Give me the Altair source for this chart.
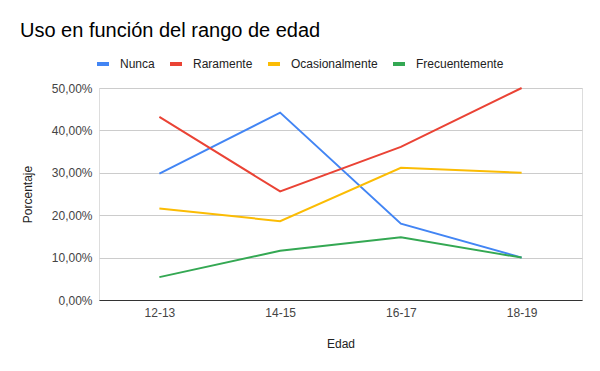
import altair as alt
import pandas as pd

edades = ["12-13", "14-15", "16-17", "18-19"]
series = ["Nunca", "Raramente", "Ocasionalmente", "Frecuentemente"]
nunca = [0.298, 0.442, 0.180, 0.100]
raramente = [0.432, 0.256, 0.361, 0.500]
ocasionalmente = [0.216, 0.186, 0.312, 0.300]
frecuentemente = [0.054, 0.116, 0.148, 0.100]
colores = ["#4285F4", "#EA4335", "#FBBC04", "#34A853"]
y_ticks = [0, 0.1, 0.2, 0.3, 0.4, 0.5]

rows = []
for name, vals in zip(series, [nunca, raramente, ocasionalmente, frecuentemente]):
    for e, v in zip(edades, vals):
        rows.append({"Edad": e, "Serie": name, "Valor": v})
df = pd.DataFrame(rows)

FONT = "Liberation Sans"

chart = (
    alt.Chart(df)
    .mark_line(strokeWidth=2)
    .encode(
        x=alt.X(
            "Edad:O",
            sort=edades,
            scale=alt.Scale(padding=0.5),
            axis=alt.Axis(
                title="Edad",
                labelAngle=0,
                labelFont=FONT,
                labelFontSize=12,
                labelColor="#444444",
                labelPadding=7,
                ticks=False,
                domain=True,
                domainColor="#333333",
                domainWidth=1,
                titleFont=FONT,
                titleFontSize=12,
                titleFontWeight="normal",
                titleColor="#222222",
                titlePadding=20,
            ),
        ),
        y=alt.Y(
            "Valor:Q",
            scale=alt.Scale(domain=[0, 0.5], nice=False),
            axis=alt.Axis(
                title="Porcentaje",
                values=y_ticks,
                labelExpr="replace(format(datum.value, '.2%'), '.', ',')",
                labelFont=FONT,
                labelFontSize=12,
                labelColor="#444444",
                labelPadding=7,
                ticks=False,
                domain=False,
                gridColor="#cccccc",
                gridWidth=1,
                titleFont=FONT,
                titleFontSize=12,
                titleFontWeight="normal",
                titleColor="#222222",
                titlePadding=17,
            ),
        ),
        color=alt.Color(
            "Serie:N",
            sort=series,
            scale=alt.Scale(domain=series, range=colores),
            legend=alt.Legend(
                title=None,
                orient="none",
                direction="horizontal",
                legendX=-4,
                legendY=-32,
                padding=0,
                symbolType="stroke",
                symbolStrokeWidth=4,
                symbolSize=144,
                labelFont=FONT,
                labelFontSize=12,
                labelColor="#222222",
                labelOffset=9,
                columnPadding=7,
            ),
        ),
    )
    .properties(
        width=483,
        height=212,
        title=alt.Title(
            "Uso en función del rango de edad",
            anchor="start",
            frame="group",
            dx=-79,
            offset=15,
            font=FONT,
            fontSize=20,
            fontWeight="normal",
            color="#000000",
        ),
        autosize=alt.AutoSizeParams(type="none"),
        padding={"left": 91, "top": 80, "right": 10, "bottom": 60},
    )
    .configure_view(stroke=None)
    .configure(background="white")
)

chart.save("out.html", embed_options={"renderer": "svg", "actions": False})
